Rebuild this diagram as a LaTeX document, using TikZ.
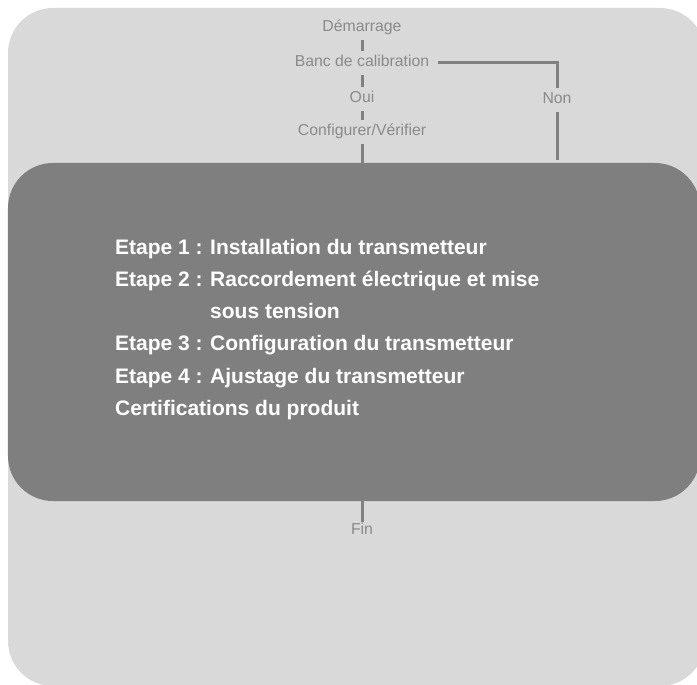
\documentclass[tikz,border=0pt]{standalone}
\usepackage{fontspec}
\setmainfont{Liberation Sans}
\usepackage{tikz}
\usetikzlibrary{calc}
\definecolor{bggray}{HTML}{D9D9D9}
\definecolor{panelgray}{HTML}{7F7F7F}
\definecolor{labelgray}{HTML}{8A8A8A}
\definecolor{linegray}{HTML}{808080}

\begin{document}
\begin{tikzpicture}[x=1bp, y=-1bp,
  lbl/.style={text=labelgray, font=\fontsize{15.8bp}{18bp}\selectfont,
    inner xsep=4bp, inner ysep=5bp, text height=11bp, text depth=3bp},
  link/.style={draw=linegray, line width=3bp},
  panel/.style={fill=panelgray, rounded corners=45bp, inner sep=0pt,
    minimum width=692bp, minimum height=338bp}]
  \useasboundingbox (0,0) rectangle (697,685);
  \clip (0,0) rectangle (697,685);
  \fill[bggray, rounded corners=45bp] (8,8) rectangle (705,686);
  \node[panel] (panel) at (354,332) {};
  \node[lbl] (start) at (362,28) {Démarrage};
  \node[lbl] (bench) at (362,63) {Banc de calibration};
  \node[lbl] (yes) at (362,99) {Oui};
  \node[lbl] (setup) at (362,132) {Configurer/Vérifier};
  \node[lbl] (no) at (557,100) {Non};
  \node[lbl] (fin) at (362,530) {Fin};
  \node[anchor=base west, inner sep=0pt, text=white,
    font=\bfseries\fontsize{21bp}{32.3bp}\selectfont] (steps) at (115,254)
  {\begin{tabular}[t]{@{}p{95bp}@{}l@{}}
    Etape 1 : & Installation du transmetteur\\
    Etape 2 : & Raccordement électrique et mise\\
              & sous tension\\
    Etape 3 : & Configuration du transmetteur\\
    Etape 4 : & Ajustage du transmetteur\\
    \multicolumn{2}{@{}l@{}}{Certifications du produit}
  \end{tabular}};
  \path[link]
  (start) edge (bench)
  (bench) edge (yes)
  (yes) edge (setup)
  (setup) edge (setup |- panel.north)
  (panel.south -| fin) edge[shorten >=-4bp] (fin);
  \draw[link, shorten <=5bp] (bench.east) -| (no.north);
  \draw[link, shorten >=3bp] (no.south) -- (no |- panel.north);
\end{tikzpicture}
\end{document}
